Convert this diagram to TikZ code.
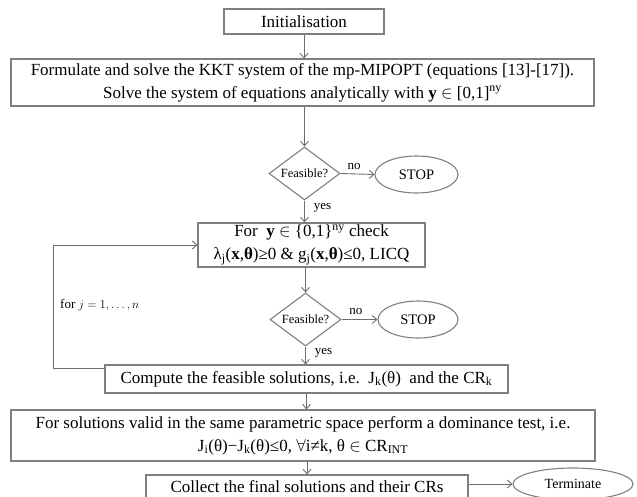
\documentclass[tikz,border=0pt]{standalone}
\usepackage{fontspec}
\setmainfont{Liberation Serif}
\usetikzlibrary{shapes.geometric,arrows.meta}

\definecolor{linegray}{HTML}{6E6E6E}
\definecolor{boxgray}{HTML}{7F7F7F}

\begin{document}
\begin{tikzpicture}[x=1pt, y=-1pt,
	box/.style = {draw=boxgray, line width=1.1pt, inner sep=0pt, align=center, font=\fontsize{17}{23}\selectfont},
	test/.style = {diamond, draw=boxgray, line width=1.1pt, inner sep=0pt, aspect=1.34, minimum width=71pt, minimum height=53pt, font=\fontsize{12.5}{14}\selectfont},
	halt/.style = {ellipse, draw=boxgray, line width=1.1pt, inner sep=0pt, font=\fontsize{14.5}{16}\selectfont},
	flow/.style = {-{Straight Barb[length=4.5pt,width=8pt]}, linegray, line width=0.9pt},
	tag/.style = {font=\fontsize{13}{15}\selectfont, inner sep=1pt, text=black}]
	\useasboundingbox (0,0) rectangle (637,496);

	% boxes of the flow
	\node [box, minimum width=160pt, minimum height=25pt] (init) at (304, 21.5) {Initialisation};
	\node [box, minimum width=583pt, minimum height=47pt] (kkt) at (302.5, 82.5)
		{Formulate and solve the KKT system of the mp-MIPOPT (equations [13]-[17]).\\
		Solve the system of equations analytically with \textbf{y} $\in$ [0,1]\textsuperscript{ny}};
	\node [test] (feas1) at (304.5, 173.5) {Feasible?};
	\node [halt, minimum width=83pt, minimum height=37pt] (stop1) at (416.5, 174.5) {STOP};
	\node [box, minimum width=227pt, minimum height=44pt] (check) at (311.5, 245)
		{For \ \textbf{y} $\in$ \{0,1\}\textsuperscript{ny} check\\
		λ\textsubscript{j}(\textbf{x},\textbf{θ})≥0 \& g\textsubscript{j}(\textbf{x},\textbf{θ})≤0, LICQ};
	\node [test] (feas2) at (305.5, 319.5) {Feasible?};
	\node [halt, minimum width=80pt, minimum height=37pt] (stop2) at (418, 319.5) {STOP};
	\node [box, minimum width=403pt, minimum height=28pt] (comp) at (306.5, 379)
		{Compute the feasible solutions, i.e.\ \ J\textsubscript{k}(θ) \ and the CR\textsubscript{k}};
	\node [box, minimum width=584pt, minimum height=51pt] (dom) at (303, 435.5)
		{For solutions valid in the same parametric space perform a dominance test, i.e.\\
		J\textsubscript{i}(θ)−J\textsubscript{k}(θ)≤0, $\forall$i≠k, θ $\in$ CR\textsubscript{INT}};
	\node [box, minimum width=322pt, minimum height=24pt] (coll) at (307, 487) {Collect the final solutions and their CRs};
	\node [halt, minimum width=120pt, minimum height=32pt, font=\fontsize{14}{16}\selectfont] (term) at (573, 484) {Terminate};

	\node [tag, anchor=west] (loop) at (59, 305) {for $j = 1, \dots, n$};
	\coordinate (corner) at (53, 368);

	% connectors
	\draw [flow] (init.south) -- (init.south |- kkt.north);
	\draw [flow] (kkt.south -| feas1.north) -- (feas1.north);
	\draw [flow] (feas1.east) -- node [tag, above=3pt, pos=.4] (no1) {no} (stop1.west);
	\draw [flow] (feas1.south) -- node [tag, right=8pt, pos=.35] (yes1) {yes} (feas1.south |- check.north);
	\draw [flow] (check.south -| feas2.north) -- (feas2.north);
	\draw [flow] (feas2.east) -- node [tag, above=3pt, pos=.4] (no2) {no} (stop2.west);
	\draw [flow] (feas2.south) -- node [tag, right=8pt, pos=.35] (yes2) {yes} (feas2.south |- comp.north);
	\draw [flow] (corner -| comp.west) -- (corner) |- (check.west);
	\draw [flow] (comp.south) -- (comp.south |- dom.north);
	\draw [flow] (dom.south -| coll.north) -- (coll.north);
	\draw [flow] (coll.east |- term.west) -- (term.west);
\end{tikzpicture}
\end{document}
